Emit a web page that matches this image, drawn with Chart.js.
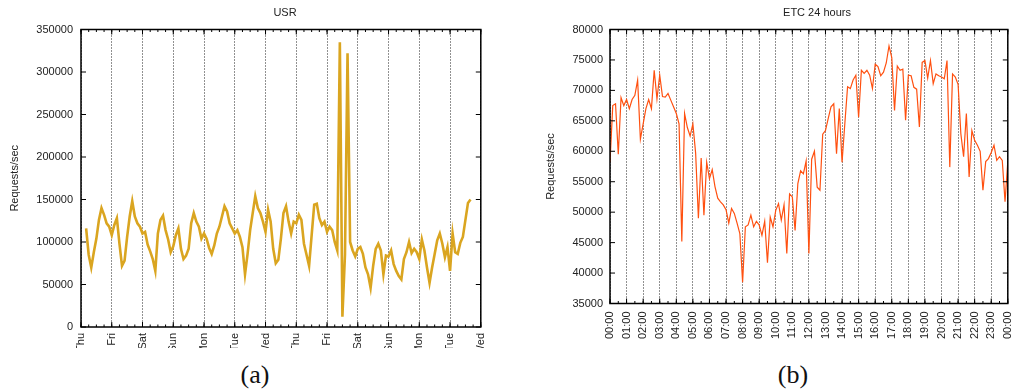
<!DOCTYPE html>
<html>
<head>
<meta charset="utf-8">
<script src="https://cdn.jsdelivr.net/npm/chart.js@4.4.1/dist/chart.umd.min.js"></script>
<style>
  body { margin: 0; background: #fff; width: 1029px; height: 390px; position: relative; overflow: hidden; }
  canvas { position: absolute; top: 0; }
  #usrChart { left: 0; }
  #etcChart { left: 520px; }
  .title { position: absolute; font: 11px "Liberation Sans", Arial, sans-serif; color: #222; transform: translateX(-50%); line-height: 14px; }
  .sub { position: absolute; font: 26px "Liberation Serif", "DejaVu Serif", serif; color: #111; transform: translate(-50%, -50%); }
</style>
</head>
<body>
<canvas id="usrChart" width="500" height="348"></canvas>
<canvas id="etcChart" width="509" height="350"></canvas>
<div class="title" style="left:285px; top:5px;">USR</div>
<div class="title" style="left:817px; top:5px;">ETC 24 hours</div>
<div class="sub" style="left:255px; top:375px;">(a)</div>
<div class="sub" style="left:793px; top:375px;">(b)</div>
<script>
// (a) USR: two weeks of requests/sec, one value every 2 hours, first sample at Thu ~04:00
const dayLabels = ['Thu', 'Fri', 'Sat', 'Sun', 'Mon', 'Tue', 'Wed', 'Thu', 'Fri', 'Sat', 'Sun', 'Mon', 'Tue', 'Wed'];
const usrStart = 2;        // in 2-hour slots from the first Thu
const usrPerDay = 12;
const usrRequests = [
  116000, 85000, 70000, 88000, 104000, 126000, 140000, 132000, 122000, 118000,
  108000, 120000, 128000, 98000, 72000, 78000, 106000, 130000, 148000, 130000,
  122000, 118000, 110000, 112000, 97000, 89000, 80000, 66000, 110000, 126000,
  131000, 114000, 103000, 88000, 95000, 108000, 116000, 92000, 80000, 84000,
  92000, 122000, 134000, 124000, 118000, 104000, 110000, 104000, 93000, 86000,
  96000, 110000, 118000, 130000, 142000, 136000, 122000, 116000, 110000, 114000,
  106000, 94000, 62000, 86000, 114000, 134000, 154000, 140000, 134000, 124000,
  112000, 138000, 124000, 92000, 75000, 79000, 104000, 134000, 142000, 124000,
  110000, 124000, 122000, 132000, 126000, 98000, 85000, 72000, 108000, 144000,
  145000, 128000, 120000, 124000, 112000, 118000, 114000, 100000, 90000, 335000,
  12000, 85000, 322000, 100000, 90000, 83000, 92000, 94000, 86000, 70000,
  62000, 46000, 72000, 92000, 98000, 90000, 62000, 84000, 83000, 90000,
  74000, 66000, 60000, 56000, 80000, 88000, 100000, 87000, 92000, 88000,
  80000, 103000, 90000, 70000, 52000, 70000, 86000, 102000, 110000, 98000,
  82000, 94000, 66000, 110000, 88000, 86000, 99000, 106000, 126000, 146000,
  150000
];

// (b) ETC: one day, one value every 10 minutes
const hourLabels = ['00:00', '01:00', '02:00', '03:00', '04:00', '05:00', '06:00', '07:00', '08:00', '09:00',
  '10:00', '11:00', '12:00', '13:00', '14:00', '15:00', '16:00', '17:00', '18:00', '19:00',
  '20:00', '21:00', '22:00', '23:00', '00:00'];
const etcPerHour = 6;
const etcRequests = [
  58200, 67500, 67800, 59500, 68800, 67500, 68500, 67000, 68500, 69200,
  71700, 62000, 64500, 67000, 68500, 67000, 73300, 68600, 72500, 69000,
  68900, 69500, 68400, 67300, 66200, 64500, 45200, 66200, 63900, 62500,
  64500, 59700, 49000, 58900, 49500, 58200, 55500, 57000, 54200, 52300,
  51700, 51200, 50400, 48200, 50600, 49800, 48200, 46500, 38500, 47600,
  47900, 49500, 47600, 48500, 47900, 46200, 48500, 41700, 49200, 47600,
  50300, 51400, 48700, 51200, 43200, 53000, 52500, 47000, 54700, 56800,
  56300, 58400, 43200, 58700, 60000, 54100, 53600, 62800, 63400, 65400,
  67300, 67800, 59600, 67000, 58200, 64500, 70600, 70300, 71700, 72500,
  65600, 73300, 72800, 73300, 72500, 70300, 74300, 73900, 72400, 73000,
  74500, 77300, 75400, 66700, 74000, 73300, 73500, 65100, 72500, 72400,
  70500, 70200, 64000, 74600, 74900, 72000, 74900, 71100, 72700, 72400,
  72200, 71900, 74900, 57400, 72700, 72200, 71000, 62900, 59100, 66200,
  55800, 63400, 61800, 61000, 60000, 53600, 58300, 58800, 59800, 61000,
  58500, 59100, 58500, 51700, 58300
];

const tickFont = { family: '"Liberation Sans", Arial, sans-serif', size: 11 };

// gnuplot style frame: box round the plot, ticks pointing inwards on all four sides
const frameTicks = {
  id: 'frameTicks',
  afterDraw(chart, args, opts) {
    const { ctx, chartArea: a } = chart;
    const xs = chart.scales.x, ys = chart.scales.y;
    ctx.save();
    ctx.strokeStyle = '#000';
    ctx.lineWidth = 1;
    ctx.beginPath();
    xs.ticks.forEach(t => {
      const px = xs.getPixelForValue(t.value);
      ctx.moveTo(px, a.bottom); ctx.lineTo(px, a.bottom - 5);
      ctx.moveTo(px, a.top); ctx.lineTo(px, a.top + 5);
    });
    for (let v = xs.min; v <= xs.max; v += opts.minorStep) {
      const px = xs.getPixelForValue(v);
      ctx.moveTo(px, a.bottom); ctx.lineTo(px, a.bottom - 2.5);
      ctx.moveTo(px, a.top); ctx.lineTo(px, a.top + 2.5);
    }
    ys.ticks.forEach(t => {
      const py = ys.getPixelForValue(t.value);
      ctx.moveTo(a.left, py); ctx.lineTo(a.left + 5, py);
      ctx.moveTo(a.right, py); ctx.lineTo(a.right - 5, py);
    });
    ctx.stroke();
    ctx.lineWidth = 1.5;
    ctx.strokeRect(a.left, a.top, a.right - a.left, a.bottom - a.top);
    ctx.restore();
  }
};

function makeChart(id, opt) {
  return new Chart(document.getElementById(id), {
    type: 'line',
    data: {
      datasets: [{
        data: opt.points,
        borderColor: opt.color,
        borderWidth: opt.lineWidth,
        borderJoinStyle: 'miter',
        pointRadius: 0,
        tension: 0
      }]
    },
    options: {
      responsive: false,
      animation: false,
      layout: { padding: opt.padding },
      plugins: {
        legend: { display: false },
        tooltip: { enabled: false },
        frameTicks: { minorStep: opt.minorStep }
      },
      scales: {
        x: {
          type: 'linear',
          min: 0,
          max: opt.xMax,
          afterFit: s => { s.height = opt.xAxisHeight; },
          grid: { color: '#222', lineWidth: 1, drawTicks: false },
          border: { display: false, dash: [1, 2] },
          ticks: {
            stepSize: 1,
            autoSkip: false,
            minRotation: 90,
            maxRotation: 90,
            padding: opt.xPad,
            color: '#222',
            font: tickFont,
            callback: v => opt.xLabels[v]
          }
        },
        y: {
          min: opt.yMin,
          max: opt.yMax,
          afterFit: s => { s.width = opt.yAxisWidth; },
          grid: { display: false, drawTicks: false },
          border: { display: false },
          title: {
            display: true,
            text: 'Requests/sec',
            color: '#222',
            font: tickFont,
            padding: { top: opt.titlePad, bottom: 0 }
          },
          ticks: {
            stepSize: opt.yStep,
            padding: opt.yPad,
            color: '#222',
            font: tickFont,
            callback: v => String(v)
          }
        }
      }
    },
    plugins: [frameTicks]
  });
}

makeChart('usrChart', {
  points: usrRequests.map((v, i) => ({ x: (usrStart + i) / usrPerDay, y: v })),
  color: '#daa520',
  lineWidth: 2.6,
  xLabels: dayLabels,
  xMax: dayLabels.length - 1,
  minorStep: 0.25,
  yMin: 0, yMax: 350000, yStep: 50000,
  padding: { top: 29.5, right: 10, left: 0, bottom: 0 },
  xAxisHeight: 21,
  yAxisWidth: 81,
  xPad: 6, yPad: 8, titlePad: 8.5
});

makeChart('etcChart', {
  points: etcRequests.map((v, i) => ({ x: i / etcPerHour, y: v })),
  color: '#ff5010',
  lineWidth: 1.2,
  xLabels: hourLabels,
  xMax: hourLabels.length - 1,
  minorStep: 0.5,
  yMin: 35000, yMax: 80000, yStep: 5000,
  padding: { top: 29.5, right: 4, left: 0, bottom: 0 },
  xAxisHeight: 46.5,
  yAxisWidth: 90,
  xPad: 8, yPad: 7, titlePad: 24.5
});
</script>
</body>
</html>
